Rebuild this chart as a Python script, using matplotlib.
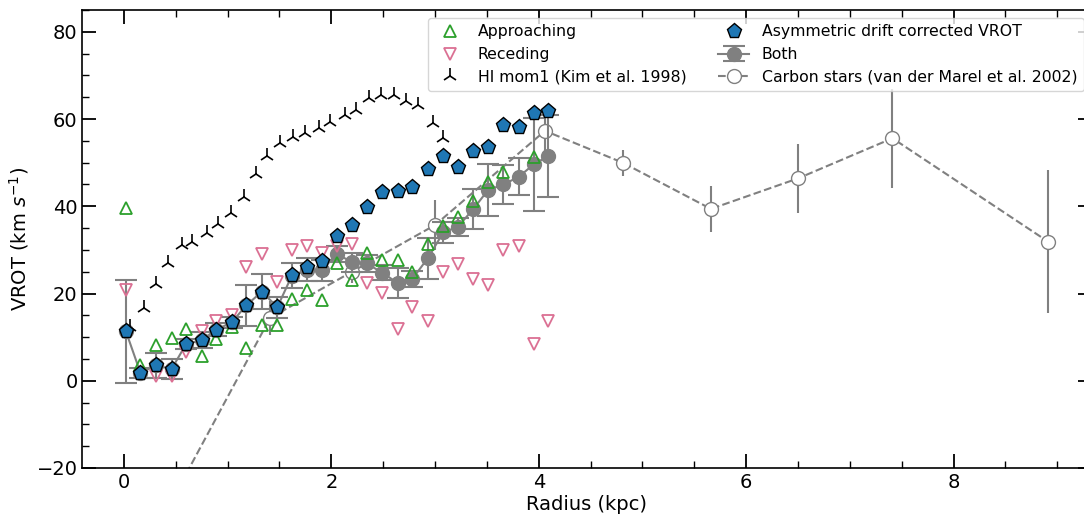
import matplotlib
matplotlib.use("Agg")
import matplotlib.pyplot as plt
from matplotlib.ticker import MultipleLocator

# rotation curve sampling (asymmetric drift corrected + both sides)
radius = [0.02, 0.16, 0.31, 0.46, 0.60, 0.75, 0.89, 1.04, 1.18, 1.33,
          1.48, 1.62, 1.77, 1.91, 2.05, 2.20, 2.34, 2.49, 2.64, 2.78,
          2.93, 3.08, 3.22, 3.37, 3.51, 3.66, 3.81, 3.95, 4.09]
vrot_adc = [11.3, 1.8, 3.5, 2.7, 8.4, 9.3, 11.7, 13.4, 17.3, 20.4,
            16.9, 24.3, 26.0, 27.5, 33.3, 35.6, 39.9, 43.2, 43.6, 44.5,
            48.5, 51.5, 49.1, 52.7, 53.7, 58.6, 58.1, 61.5, 61.9]
vrot_both = [11.3, 1.8, 3.5, 2.7, 8.4, 9.3, 11.7, 13.4, 17.3, 20.4,
             16.9, 24.1, 25.5, 25.3, 29.1, 27.2, 26.9, 24.8, 22.4, 23.3,
             28.1, 34.0, 35.3, 39.4, 43.7, 45.0, 46.8, 49.6, 51.5]
err_both = [11.8, 1.2, 2.8, 2.4, 1.2, 1.8, 1.5, 1.2, 4.7, 4.0,
            2.4, 2.9, 2.7, 2.5, 1.9, 2.2, 2.0, 1.8, 3.4, 1.9,
            4.7, 2.4, 2.0, 4.6, 6.0, 4.5, 4.2, 10.6, 9.4]

app_r = [0.02, 0.16, 0.31, 0.46, 0.60, 0.75, 0.89, 1.04, 1.18, 1.33,
         1.48, 1.62, 1.77, 1.91, 2.05, 2.20, 2.34, 2.49, 2.64, 2.78,
         2.93, 3.08, 3.22, 3.37, 3.51, 3.66, 3.95]
app_v = [39.6, 3.7, 8.2, 9.8, 11.9, 5.6, 9.5, 12.3, 7.6, 12.8,
         12.7, 18.8, 20.8, 18.5, 26.9, 23.1, 29.2, 27.6, 27.6, 25.0,
         31.4, 35.5, 37.6, 41.3, 45.6, 47.8, 51.4]

rec_r = [0.02, 0.31, 0.46, 0.60, 0.75, 0.89, 1.04, 1.18, 1.33, 1.48,
         1.62, 1.77, 1.91, 2.05, 2.20, 2.34, 2.49, 2.64, 2.78, 2.93,
         3.08, 3.22, 3.37, 3.51, 3.66, 3.81, 3.95, 4.09]
rec_v = [20.7, 1.2, 1.0, 6.5, 11.5, 13.8, 15.0, 26.0, 29.1, 22.7,
         30.0, 30.8, 29.4, 31.0, 31.3, 22.4, 20.2, 11.8, 17.0, 13.8,
         25.0, 26.8, 23.4, 22.0, 30.0, 30.9, 8.5, 13.6]

hi_r = [0.06, 0.19, 0.31, 0.43, 0.56, 0.66, 0.80, 0.91, 1.03, 1.16,
        1.27, 1.38, 1.51, 1.63, 1.75, 1.88, 1.99, 2.13, 2.24, 2.36,
        2.48, 2.60, 2.72, 2.84, 2.98, 3.08]
hi_v = [12.4, 16.6, 22.2, 27.0, 31.2, 31.9, 33.8, 36.0, 38.4, 42.1,
        47.3, 51.5, 54.4, 55.8, 56.9, 58.0, 59.3, 61.0, 62.1, 64.8,
        65.5, 65.5, 64.2, 63.2, 59.2, 55.7]

cs_r = [0.45, 1.41, 2.20, 3.00, 4.06, 4.81, 5.66, 6.50, 7.41, 8.91]
cs_v = [-28.0, 14.4, 25.0, 35.7, 57.3, 50.0, 39.4, 46.4, 55.6, 31.9]
cs_err = [4.0, 4.0, 2.7, 5.8, 5.0, 3.0, 5.3, 7.9, 11.3, 16.4]

fig = plt.figure(figsize=(10.84, 5.14), dpi=100)
# right spine sits just outside the picture, as in the original crop
ax = fig.add_axes([0.076, 0.0895, 0.931, 0.891])

h_cs = ax.errorbar(cs_r, cs_v, yerr=cs_err, fmt='o--', color='gray', mfc='white',
                   mec='gray', ms=10, lw=1.5, elinewidth=1.5, capsize=0,
                   label='Carbon stars (van der Marel et al. 2002)', zorder=1)
h_both = ax.errorbar(radius, vrot_both, yerr=err_both, fmt='o-', color='gray',
                     ms=10, lw=1.5, elinewidth=1.5, capsize=8, capthick=1.5,
                     label='Both', zorder=2)
h_app, = ax.plot(app_r, app_v, '^', mfc='none', mec='tab:green', ms=9, mew=1.3,
                 ls='none', label='Approaching', zorder=3)
h_rec, = ax.plot(rec_r, rec_v, 'v', mfc='none', mec='palevioletred', ms=9, mew=1.3,
                 ls='none', label='Receding', zorder=3)
h_hi, = ax.plot(hi_r, hi_v, '2', color='black', ms=11, mew=1.2, ls='none',
                label='HI mom1 (Kim et al. 1998)', zorder=3)
h_adc, = ax.plot(radius, vrot_adc, 'p', color='tab:blue', mec='black', ms=11,
                 mew=1.0, ls='none', label='Asymmetric drift corrected VROT', zorder=4)

ax.set_xlim(-0.4, 9.33)
ax.set_ylim(-20, 85)
ax.xaxis.set_major_locator(MultipleLocator(2))
ax.xaxis.set_minor_locator(MultipleLocator(0.5))
ax.yaxis.set_major_locator(MultipleLocator(20))
ax.yaxis.set_minor_locator(MultipleLocator(5))
ax.tick_params(which='both', direction='in', top=True, right=True, labelsize=14)
ax.tick_params(which='major', length=10, width=1.3)
ax.tick_params(which='minor', length=5, width=1.0)
for s in ax.spines.values():
    s.set_linewidth(1.2)

ax.set_xlabel('Radius (kpc)', fontsize=14, labelpad=2)
ax.set_ylabel('VROT (km $s^{-1}$)', fontsize=14)

ax.legend(handles=[h_app, h_rec, h_hi, h_adc, h_both, h_cs], ncol=2,
          loc='upper right', fontsize=11.3, columnspacing=2.0)

fig.savefig('out.png', dpi=100)
